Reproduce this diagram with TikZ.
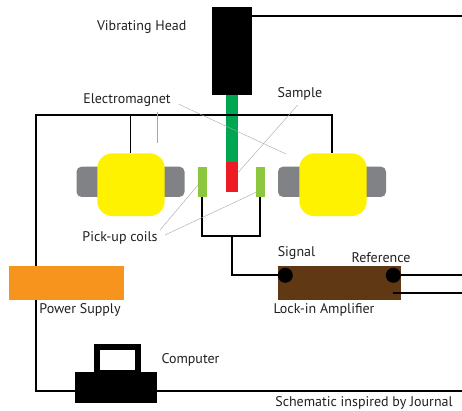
\documentclass[tikz,border=0pt]{standalone}
\usepackage{xcolor}
\usepackage{fontspec}
\setmainfont{PT Sans}
\definecolor{rodGreen}{HTML}{00A651}
\definecolor{sampleRed}{HTML}{ED1C24}
\definecolor{coilGreen}{HTML}{8DC63F}
\definecolor{magnetYellow}{HTML}{FFF200}
\definecolor{coreGray}{HTML}{808285}
\definecolor{ampBrown}{HTML}{603813}
\definecolor{supplyOrange}{HTML}{F7941D}
\definecolor{labelGray}{HTML}{231F20}
\begin{document}
\begin{tikzpicture}
    [x=1pt,y=-1pt,
    Block/.style={rectangle,inner sep=0pt,outer sep=0pt},
    Core/.style={Block,fill=coreGray,rounded corners=5pt,minimum width=108pt,minimum height=30.3pt},
    Yoke/.style={Block,fill=magnetYellow,rounded corners=15pt,minimum width=67.4pt,minimum height=62.7pt},
    Coil/.style={Block,fill=coilGreen,minimum width=8.7pt,minimum height=30.3pt},
    Jack/.style={circle,fill=black,inner sep=0pt,minimum size=15pt},
    Wire/.style={draw=black,line width=1.7pt},
    Leader/.style={draw=black!35,line width=0.4pt},
    Label/.style={text=labelGray,font=\fontsize{14}{16}\selectfont,inner sep=0pt}]

    \useasboundingbox (0,0) rectangle (462,410);

    % vibrating head and sample rod
    \node[Block,fill=black,minimum width=39.4pt,minimum height=88pt] (head) at (232,50.7){};
    \node[Block,fill=rodGreen,minimum width=11.7pt,minimum height=67.3pt] (rod) at (231.9,128.3){};
    \node[Block,fill=sampleRed,minimum width=11.7pt,minimum height=30.3pt] (sample) at (231.9,177.2){};

    % electromagnet
    \node[Core] (coreL) at (130.5,181.8){};
    \node[Core] (coreR) at (332,181.8){};
    \node[Yoke] (yokeL) at (131,184.7){};
    \node[Yoke] (yokeR) at (333,184.7){};

    % pick-up coils
    \node[Coil] (coilL) at (202.3,181.8){};
    \node[Coil] (coilR) at (260.3,181.8){};

    % instruments
    \node[Block,fill=ampBrown,minimum width=123pt,minimum height=34pt] (amp) at (339.5,283){};
    \node[Block,fill=supplyOrange,minimum width=115pt,minimum height=34pt] (supply) at (66.5,283){};
    \node[Jack] (signal) at (285.3,275.3){};
    \node[Jack] (reference) at (393.3,275.3){};

    % computer
    \node[Block,fill=black,minimum width=82pt,minimum height=31pt] (base) at (116.3,387.8){};
    \node[Block,fill=black,minimum width=46.4pt,minimum height=29pt] (monitor) at (117.5,358){};
    \node[Block,fill=white,minimum width=35pt,minimum height=20.6pt] (screen) at (117.5,360){};

    % free ends and corners
    \coordinate (headOut) at (462,16);
    \coordinate (busL) at (35.7,115);
    \coordinate (busR) at (332.3,115);
    \coordinate (busMid) at (130.5,115);
    \coordinate (coilJoin) at (232,235.7);
    \coordinate (refOut) at (462,275.3);
    \coordinate (ampOut) at (462,293.3);
    \coordinate (ampIn) at (393.3,293.3);
    \coordinate (pcOut) at (462,390.7);
    \coordinate (pcCorner) at (35.7,390.7);

    % wires
    \draw[Wire] (head.east |- headOut)--(headOut);
    \draw[Wire] (supply.north -| busL)--(busL)--(busR)--(yokeR.north -| busR);
    \draw[Wire] (busMid)--(yokeL.north -| busMid);
    \draw[Wire] (supply.south -| pcCorner)--(pcCorner)--(base.west |- pcCorner);
    \draw[Wire] (base.east |- pcOut)--(pcOut);
    \draw[Wire] (coilL.south)--(coilL.south |- coilJoin)--(coilR.south |- coilJoin)--(coilR.south);
    \draw[Wire] (coilJoin)--(coilJoin |- signal)--(signal);
    \draw[Wire] (reference)--(refOut);
    \draw[Wire] (ampIn)--(ampOut);

    % labels
    \node[Label] (lblHead) at (141.7,27) {Vibrating Head};
    \node[Label] (lblMagnet) at (127,100) {Electromagnet};
    \node[Label] (lblSample) at (300,94) {Sample};
    \node[Label] (lblCoils) at (120,238) {Pick-up coils};
    \node[Label] (lblSignal) at (296.5,253) {Signal};
    \node[Label] (lblRef) at (381,258) {Reference};
    \node[Label] (lblSupply) at (80,309.7) {Power Supply};
    \node[Label] (lblAmp) at (324,309.7) {Lock-in Amplifier};
    \node[Label] (lblPc) at (190.5,360) {Computer};
    \node[Label] (lblNote) at (364,403) {Schematic inspired by Journal};

    % leader lines
    \coordinate (magStart) at (156.7,111.7);
    \coordinate (magEnd) at (156.7,142.7);
    \coordinate (magStartR) at (179,104.3);
    \coordinate (magEndR) at (286,154);
    \coordinate (sampleStart) at (297.7,105);
    \coordinate (sampleEnd) at (238.3,172.3);
    \coordinate (coilStartL) at (160,230);
    \coordinate (coilEndL) at (198,185);
    \coordinate (coilStartR) at (165,235);
    \coordinate (coilEndR) at (256,192.3);
    \draw[Leader] (magStart)--(magEnd);
    \draw[Leader] (magStartR)--(magEndR);
    \draw[Leader] (sampleStart)--(sampleEnd);
    \draw[Leader] (coilStartL)--(coilEndL);
    \draw[Leader] (coilStartR)--(coilEndR);

\end{tikzpicture}
\end{document}
